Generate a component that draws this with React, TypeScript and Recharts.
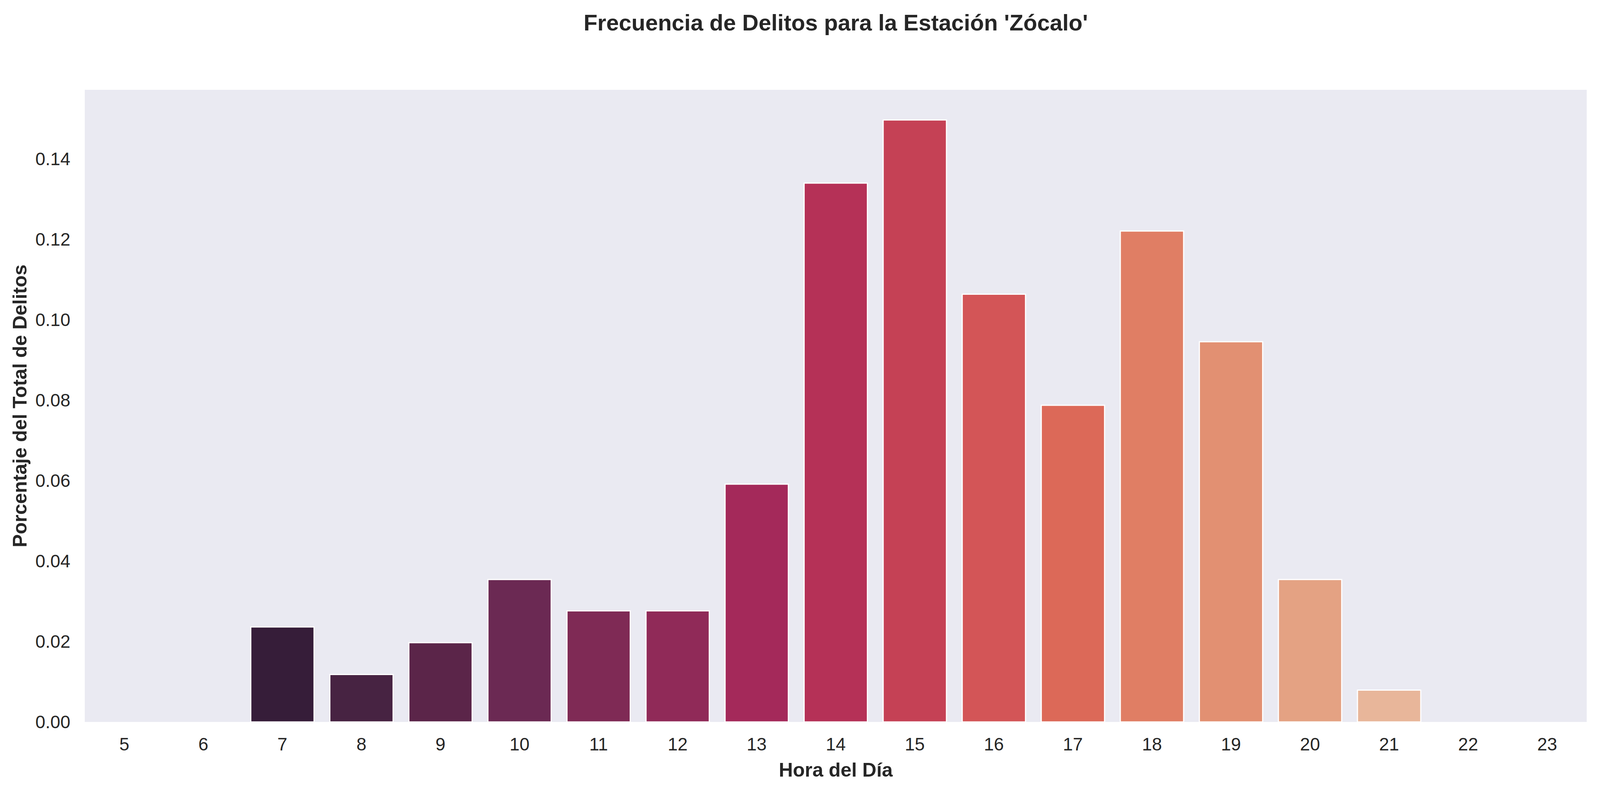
import { BarChart, Bar, XAxis, YAxis, CartesianGrid, Cell } from 'recharts'

// Hora del día (categorías del eje X)
const hours = ['5', '6', '7', '8', '9', '10', '11', '12', '13', '14', '15', '16', '17', '18', '19', '20', '21', '22', '23']

// Porcentaje del total de delitos por hora
const shares = [0, 0, 0.0236, 0.0118, 0.0197, 0.0354, 0.0276, 0.0276, 0.0591, 0.1339, 0.1496, 0.1063, 0.0787, 0.122, 0.0945, 0.0354, 0.0079, 0, 0]

// paleta "rocket"
const colors = [
  '#0f0a1f', '#231430', '#361d39', '#472342', '#5b2549', '#6b2953', '#7f2a55', '#902a58', '#a4295a', '#b53157',
  '#c54155', '#d35557', '#dc6958', '#e07e64', '#e29072', '#e4a283', '#e8b69a', '#ecc8b2', '#f1dbca',
]

const yTicks = [0, 0.02, 0.04, 0.06, 0.08, 0.1, 0.12, 0.14]

const data = hours.map((hora, i) => ({ hora, share: shares[i] }))

const TEXT = '#262626'
const FONT = '"Liberation Sans", Arial, sans-serif'

export default function App() {
  // the window may be narrower than the 4428px design; keep the layout proportional
  const W = Math.min(window.innerWidth || 4428, 4428)
  const H = 2031
  const sx = W / 4428
  const left = Math.round(235 * sx)
  const right = Math.round(37 * sx)

  return (
    <div style={{ position: 'relative', width: W, height: H, background: '#fff', fontFamily: FONT, overflow: 'hidden' }}>
      <style>{'body{margin:0}'}</style>
      <div
        style={{
          position: 'absolute',
          left,
          width: W - left - right,
          top: 26,
          textAlign: 'center',
          fontSize: 58,
          lineHeight: '64px',
          fontWeight: 700,
          color: TEXT,
        }}
      >
        Frecuencia de Delitos para la Estación 'Zócalo'
      </div>
      <BarChart
        width={W}
        height={H}
        data={data}
        margin={{ top: 230, right, bottom: 0, left: 0 }}
        barCategoryGap="10%"
      >
        <CartesianGrid fill="#eaeaf2" stroke="none" horizontal={false} vertical={false} />
        <XAxis
          dataKey="hora"
          height={182}
          axisLine={false}
          tickLine={false}
          tickSize={0}
          tickMargin={40}
          tick={{ fontSize: 46, fill: TEXT, fontFamily: FONT }}
          interval={0}
          label={{
            value: 'Hora del Día',
            position: 'insideTop',
            offset: 104,
            style: { fontSize: 50, fontWeight: 700, fill: TEXT, fontFamily: FONT },
          }}
        />
        <YAxis
          width={left}
          domain={[0, 0.1571]}
          ticks={yTicks}
          axisLine={false}
          tickLine={false}
          tickSize={0}
          tickMargin={Math.round(40 * sx)}
          tick={{ fontSize: 46, fill: TEXT, fontFamily: FONT }}
          tickFormatter={(v: number) => v.toFixed(2)}
          label={{
            value: 'Porcentaje del Total de Delitos',
            angle: -90,
            position: 'insideLeft',
            offset: Math.round(54 * sx),
            style: { fontSize: 50, fontWeight: 700, fill: TEXT, fontFamily: FONT, textAnchor: 'middle' },
          }}
        />
        <Bar dataKey="share" stroke="#ffffff" strokeWidth={3} isAnimationActive={false}>
          {data.map((d, i) => (
            <Cell key={d.hora} fill={colors[i]} />
          ))}
        </Bar>
      </BarChart>
    </div>
  )
}
